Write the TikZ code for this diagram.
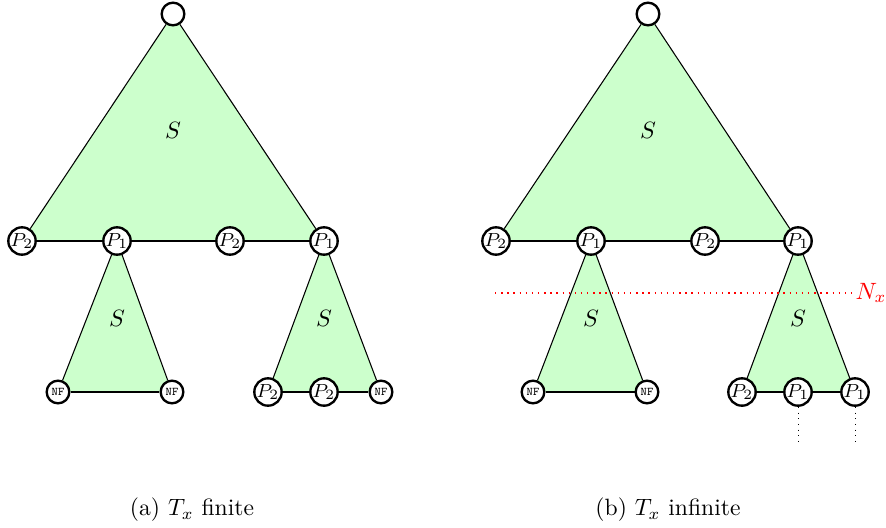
\documentclass[tikz,border=0pt]{standalone}
\usetikzlibrary{backgrounds}
\begin{document}
\begin{tikzpicture}[
  x=0.4237pt, y=-0.4237pt,
  vtx/.style={circle, draw, line width=1pt, fill=white, inner sep=0pt,
              minimum size=9.6pt, font=\footnotesize},
  nf/.style={vtx, font=\tiny\ttfamily},
  tri/.style={fill=green!20},
  ed/.style={draw, line width=0.45pt},
  cut/.style={color=red, dotted, line width=0.6pt},
]
\useasboundingbox (0,0) rectangle (886,527);

% (a) finite
\node[vtx] (ra) at (173,14) {};
\node[vtx] (a1) at (22,241) {$P_2$};
\node[vtx] (a2) at (117,241) {$P_1$};
\node[vtx] (a3) at (230,241) {$P_2$};
\node[vtx] (a4) at (324,241) {$P_1$};
\node[nf] (a5) at (58,392) {NF};
\node[nf] (a6) at (172,392) {NF};
\node[vtx] (a7) at (268,392) {$P_2$};
\node[vtx] (a8) at (324,392) {$P_2$};
\node[nf] (a9) at (381,392) {NF};
\node (sa0) at (173,130) {$S$};
\node (sa1) at (117,318) {$S$};
\node (sa2) at (324,318) {$S$};
\node (capa) at (192,510) {(a) $T_x$ finite};

% (b) infinite
\node[vtx] (rb) at (648,14) {};
\node[vtx] (b1) at (496,241) {$P_2$};
\node[vtx] (b2) at (591,241) {$P_1$};
\node[vtx] (b3) at (705,241) {$P_2$};
\node[vtx] (b4) at (798,241) {$P_1$};
\node[nf] (b5) at (533,392) {NF};
\node[nf] (b6) at (647,392) {NF};
\node[vtx] (b7) at (742,392) {$P_2$};
\node[vtx] (b8) at (798,392) {$P_1$};
\node[vtx] (b9) at (855,392) {$P_1$};
\node (sb0) at (648,130) {$S$};
\node (sb1) at (591,318) {$S$};
\node (sb2) at (798,318) {$S$};
\node (capb) at (668,510) {(b) $T_x$ infinite};
\node[red, inner sep=1pt] (nx) at (871,293) {$N_x$};
\coordinate (cl) at (495,293);
\coordinate (d8) at (798,446);
\coordinate (d9) at (855,446);

\begin{scope}[on background layer]
  \fill[tri] (ra.center) -- (a1.center) -- (a4.center) -- cycle;
  \fill[tri] (a2.center) -- (a5.center) -- (a6.center) -- cycle;
  \fill[tri] (a4.center) -- (a7.center) -- (a9.center) -- cycle;
  \fill[tri] (rb.center) -- (b1.center) -- (b4.center) -- cycle;
  \fill[tri] (b2.center) -- (b5.center) -- (b6.center) -- cycle;
  \fill[tri] (b4.center) -- (b7.center) -- (b9.center) -- cycle;
\end{scope}

\draw[ed] (ra) -- (a1);
\draw[ed] (ra) -- (a4);
\draw[ed] (a1) -- (a2) -- (a3) -- (a4);
\draw[ed] (a2) -- (a5);
\draw[ed] (a2) -- (a6);
\draw[ed] (a5) -- (a6);
\draw[ed] (a4) -- (a7);
\draw[ed] (a4) -- (a9);
\draw[ed] (a7) -- (a8) -- (a9);

\draw[ed] (rb) -- (b1);
\draw[ed] (rb) -- (b4);
\draw[ed] (b1) -- (b2) -- (b3) -- (b4);
\draw[ed] (b2) -- (b5);
\draw[ed] (b2) -- (b6);
\draw[ed] (b5) -- (b6);
\draw[ed] (b4) -- (b7);
\draw[ed] (b4) -- (b9);
\draw[ed] (b7) -- (b8) -- (b9);
\draw[dotted] (b8) -- (d8);
\draw[dotted] (b9) -- (d9);
\draw[cut] (cl) -- (nx);
\end{tikzpicture}
\end{document}
